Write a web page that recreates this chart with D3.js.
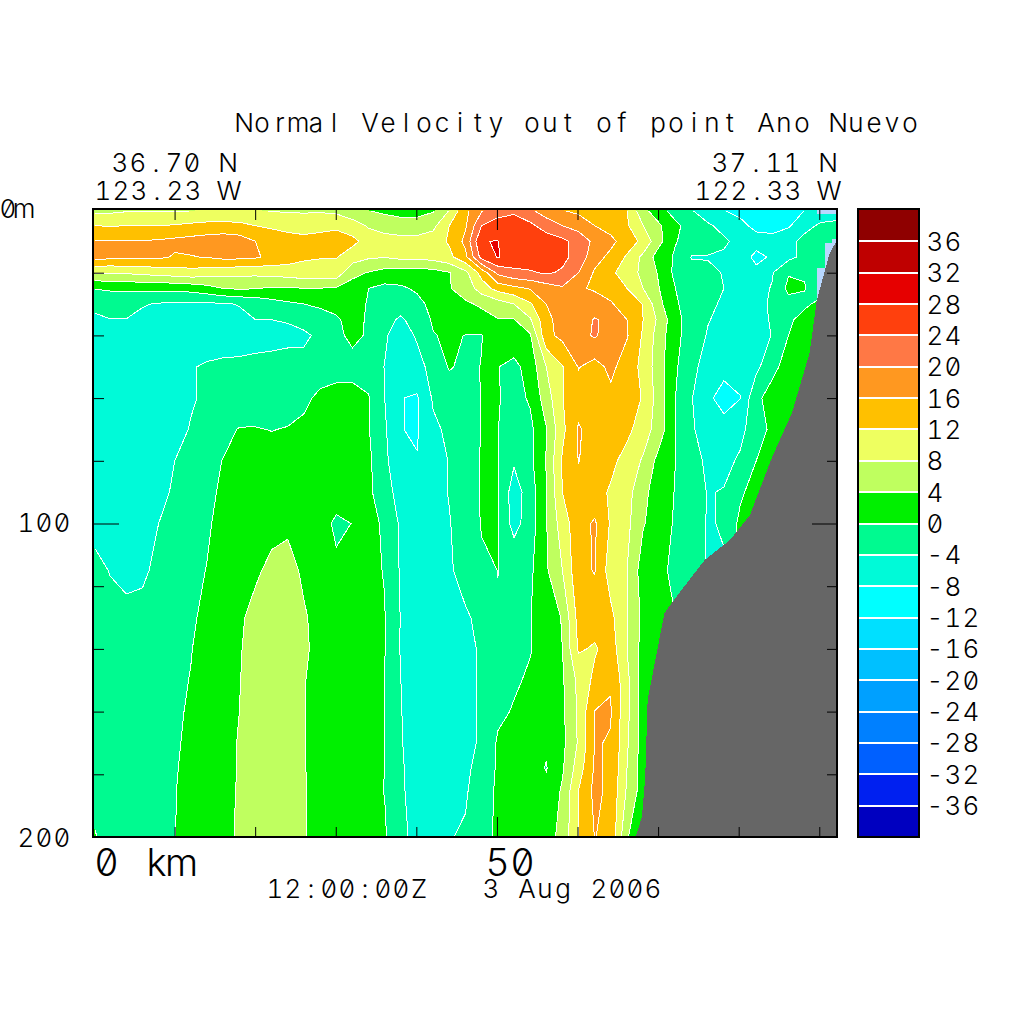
<!DOCTYPE html>
<html><head><meta charset="utf-8">
<style>html,body{margin:0;padding:0;background:#fff}svg{display:block}
text{font-family:Inter,"Noto Sans",sans-serif;font-weight:300;font-feature-settings:"zero" 1,"tnum" 1;white-space:pre;fill:#000}
.dom path{display:none}.dom line{stroke:#000;stroke-width:1}</style>
<script src="https://d3js.org/d3.v7.min.js"></script></head><body>
<script>
// Depth levels (m) of the section and the normal velocity (cm/s) along each level
const depths=[0,5,10,15,20,25,30,35,40,50,60,70,80,90,100,115,130,140,150,160,170,178,185,200];
const v000=[7,7,7.5,7.5,7.5,7.5,7.7,8.2,8.3,8.3,8,7.7,7.5,7.5,7.5,7,5,3.9,3,2.7,2.7,3.5,8,15,19.5,22,23,20.5,18,16,15,14,13,12,5,1.5,-2,-3.9,-6,-8,-9,-10.5,-11,-10,-8,-6,-6];
const v005=[12,11.8,12,12,12,12.3,12.8,13.2,13.3,13,12,11.2,10.5,10,10.5,11,10,7.5,6.5,5.5,5.5,7,12,15.5,24,26,26.5,25,22,20,18.5,16,14.5,12.5,8,4.5,1,-2,-3.5,-5,-7,-9,-9.5,-8.5,-5,-3.5,-3];
const v010=[16.2,16.3,16.2,16.2,16.5,17,17.5,18,18.5,18,16,15,14,13.5,14,14.5,13,10.5,9.5,9.5,9.5,10,12.5,17,27.9,28.1,26,27,26.5,25,22.5,19,17,14,11,5,0.2,-1.5,-2.5,-3.5,-5,-6.5,-6.5,-5,-3,-2.5,-2.5];
const v015=[17.5,17,17,16.8,16.8,15.6,15.8,16.2,17,17,16.5,15,14,12.5,12.2,12.2,10,8.5,8.2,9,9,9.5,11,15,25.5,28.2,26.5,26.5,26,25,22.5,17.5,15,11.5,7,2,-0.5,-4.2,-4.2,-4.5,-6,-9,-7.5,-5,-3,-2.5,-2.5];
const v020=[8.2,8.2,8.5,9,9.5,10,10.5,10,9.5,9,9,9.5,9.8,10.5,10.5,10.5,5,3.8,2.5,2,2,2.5,3.8,7,13.5,21,23,23.5,24.5,23.5,20,15.5,12.8,10,7,3.5,-1,-3,-3.2,-4.2,-6,-7,-4.2,-0.3,-0.3,-2,-2];
const v025=[0.1,0.5,0.7,0.8,0.9,1,1.5,2.5,4,4.5,4.2,3.5,3.5,4,3.9,3.6,2.5,0,-1,-0.5,0.5,2,3.8,5.5,10,13.5,15,16.3,18,19.5,16.5,15.5,14,12,8,4,0,-2,-3,-4,-5.5,-5,-3.8,1,0.2,-2.5,-2.5];
const v030=[-2.7,-2.5,-2.5,-3.7,-4.3,-4.7,-4.8,-4.6,-4.4,-3.8,-3,-1.5,-0.6,0,0.3,0.7,1.5,-0.3,-2,-2.5,-1,1,3.5,3.5,4.5,6,8,11.5,16,17,17.5,18,16.5,13.5,11.9,5,0.4,-1.5,-3,-4.7,-5.5,-5,-3.5,-1.5,-1,1.5,1.5];
const v035=[-5,-4.1,-4.1,-5,-5.5,-6,-6,-6,-5.5,-5,-4,-4,-3.7,-2,-0.8,-0.3,0.8,-0.3,-3,-4.5,-2.5,0.5,2,2.5,2.8,3.8,3.8,7.5,15,17.5,18,20.3,19,16,12,7,1,-1.5,-3.8,-5,-5.5,-5,-3.7,-1,2,2,2];
const v040=[-6,-5.5,-5.5,-5.7,-6,-6.2,-6.5,-6.5,-6.5,-6.5,-6,-5.5,-5,-5,-2.8,-1,1,-0.5,-3.5,-6,-3.5,-0.2,0.6,-0.1,-0.1,2,2.5,3.5,15,17,18.5,20.5,18,16.3,11.5,6,1,-1.8,-4.3,-6,-6.5,-6,-3.8,0,3,3,3];
const v050=[-6.5,-6.5,-6.5,-6.2,-5.5,-5,-4.3,-3.5,-3,-2.8,-2.5,-2.5,-2.5,-2.3,-2.3,-1.6,-1.5,-2,-4.1,-6.5,-5.5,-2.5,0.3,-0.8,0.1,0.1,-1,1.5,8,11.8,16.2,14.5,17,14,11,5.5,0.5,-3,-5.5,-7.2,-7,-5,-1,1.5,3,3,3];
const v060=[-7,-7,-6.8,-6.5,-6,-5.5,-4.3,-3.5,-3,-2.5,-2.2,-2,-1.8,-1,1,1.5,1.5,0.3,-4,-7.9,-8.4,-3.5,-2,-1,0.1,0.3,-1.5,0.5,6,11.9,14,14.5,15,14,11.7,6,0,-3.8,-7.5,-9,-8.1,-0.8,1.5,3,3,3,3];
const v070=[-7.5,-7.5,-7,-6.5,-6,-5,-3.8,-2.5,-1,0.2,0.2,-0.1,0.2,1,2,2.5,2,0.2,-3.5,-7.9,-8.4,-4.8,-3.2,-1.5,0.1,0.1,-2.5,-1,3.8,11,16.5,14,14.5,13,10,6,0,-3.5,-6,-7,-5,-2,1,3,3,3,3];
const v080=[-7.5,-7.5,-7,-6.5,-5.5,-4,-2.5,-1,0.1,1,1.3,1.5,1.8,2,2.2,2.2,2,0.8,-3.3,-6.5,-7.8,-6,-3.8,-2,0.3,0.1,-3.5,-1,4.2,12.5,16.1,14.5,13,10.5,7.5,2.5,0,-3,-4.5,-5,-3.5,0,3,3,3,3,3];
const v090=[-7.5,-7.5,-7,-6.5,-5,-3.5,-2,-0.7,0.5,1.8,2,2.5,2.8,3,2.8,2.5,2,0.8,-2.5,-5.5,-6.5,-5.5,-3.8,-1.8,0.3,0.1,-6,-2,3.8,12,14.5,13.5,11.5,9.5,5,2,-0.2,-2,-4.2,-3.8,-0.8,2,3,3,3,3,3];
const v100=[-5.5,-7.3,-6.8,-6,-4,-2.5,-1.2,-0.4,1,2.2,2.6,3,3.5,3.4,2.2,-1,0.1,1,-0.5,-4.7,-6,-5.5,-4.2,-2,0.2,0.1,-5.5,-2,3.8,10,14.5,16.5,11.5,9,4.3,2,-0.5,-2.5,-4.2,-3.8,1,3,3,3,3,3,3];
const v115=[-2.5,-4.2,-5,-4.7,-3,-1.5,-0.8,0.1,1.5,2.5,3.5,4.8,5,3.5,2.5,1,1,0.5,-0.1,-4.5,-5.5,-5.5,-4.5,-2.5,-0.5,0.02,-0.5,-0.8,3.5,8,15,16.2,10,8,2,0.5,-0.5,-2.8,-4.2,-4.2,3,3,3,3,3,3,3];
const v130=[-2,-2.5,-3,-2.8,-2,-1,-0.3,0.5,2,3.5,5,5.5,5.5,4.3,3,2,1.5,1,0.1,-4.2,-5.5,-5.5,-5,-4.5,-3,-0.1,-1,-0.1,1.5,4.3,13.5,14,13,8,3,1,0,3,3,3,3,3,3,3,3,3,3];
const v140=[-1.8,-2,-2.2,-2,-1.5,-0.8,-0.1,1,2.5,3.8,5,5.8,6,4.5,3,2,1.5,1,0.1,-4.3,-5.3,-5.5,-5.5,-5,-3.5,-2.5,-1.5,-0.2,1.5,4,12.5,11.5,14,8,2.5,1,1,3,3,3,3,3,3,3,3,3,3];
const v150=[-1.5,-1.5,-1.7,-1.5,-1.2,-0.6,0.1,1.5,3,3.9,5.2,6,6,4.2,2.5,2,1.5,1,0,-4,-5.5,-5.5,-5.3,-5,-3.5,-2.3,-0.5,0.5,2,3.5,9,13,15.9,9,2,1,1,3,3,3,3,3,3,3,3,3,3];
const v160=[-1.2,-1.2,-1.3,-1.2,-1,-0.4,0.3,1.5,3,4,5.3,6,5.9,4.2,2.5,2,1.5,1,0,-3.9,-5.5,-5.5,-5.4,-5,-3.5,-0.8,0.3,1,1.5,3.2,8.7,16.1,16.1,9,2,1,1,3,3,3,3,3,3,3,3,3,3];
const v170=[-1,-1,-1,-1,-0.7,-0.3,0.5,1.5,3,4.2,5.5,6,5.8,4.2,2.5,2,1.5,1,0,-3.8,-5.5,-5.5,-5.5,-5,-3.5,0.5,1,1.5,0.5,3,8.5,16.1,15.9,8.5,2,1,1,3,3,3,3,3,3,3,3,3,3];
const v178=[-0.9,-0.9,-0.9,-0.9,-0.7,-0.2,0.7,1.5,3,4.2,5.5,6,5.8,4.2,2.5,2,1.5,1,0,-3.6,-5.5,-5.5,-5.2,-4.8,-2.5,0.5,1,1.5,-0.2,3.5,10,16.5,15.5,8,2,1,1,3,3,3,3,3,3,3,3,3,3];
const v185=[-0.8,-0.8,-0.8,-0.8,-0.6,-0.1,0.8,1.5,3,4.3,5.5,6,5.8,4.3,2.5,2,1.5,1,-0.1,-3.5,-5.5,-5.5,-5,-4.5,-1.5,0.5,1,1.5,1,4.5,12,17,15,7.5,2,1,1,3,3,3,3,3,3,3,3,3,3];
const v200=[0.2,-0.8,-0.8,-0.8,-0.6,-0.05,1,1.8,3,4.5,5.5,6,5.7,4.3,2.5,2,1.5,1,0.4,-3.2,-5,-5.5,-4.2,-3.5,-1,0.5,1,1.5,2,5.5,12,16.1,15,4.3,1,1,1,3,3,3,3,3,3,3,3,3,3];
const rows=[v000,v005,v010,v015,v020,v025,v030,v035,v040,v050,v060,v070,v080,v090,v100,v115,v130,v140,v150,v160,v170,v178,v185,v200];

// Contour levels and colours (one colour per 4 cm/s band, low to high)
const levels=[-40,-36,-32,-28,-24,-20,-16,-12,-8,-4,0,4,8,12,16,20,24,28,32,36];
const bandColors=["#0000c0","#0020f0","#0060ff","#0080ff","#00a0ff","#00c0ff","#00e0ff","#00ffff","#00fad8","#00fa90","#00f000","#bfff5f","#eeff60","#ffc000","#ff9820","#ff7845","#ff400d","#e60000","#bf0000","#8f0000"];
const barLabels=[36,32,28,24,20,16,12,8,4,0,-4,-8,-12,-16,-20,-24,-28,-32,-36];

// Sea floor profile and masked (no-data) cells
const floorKm=[92.2,91.3,89.7,88.8,86.6,84.1,81.4,78.9,75.8,72.7,70.8,69.9,68.7,68.4,68,67.2];
const floorDepth=[9.6,13.7,28.7,45.6,64.8,79.1,97.3,105.3,111.6,121.9,128.5,140.3,156.3,180.9,193.6,200];
const maskKm0=[89.7,91.6,90.7,89.7];
const maskDepth0=[0,9.3,10.5,18.5];
const maskDepth1=[1.3,10.5,18.5,29.3];
const kmMax=92.2, depthMax=200, nCols=v000.length, nRows=rows.length;

const x=d3.scaleLinear().domain([0,kmMax]).range([94,837]);
const y=d3.scaleLinear().domain([0,depthMax]).range([210,837]);
const colKm=d3.scaleLinear().domain([0,nCols-1]).range([0,kmMax]).clamp(true);
const rowDepth=d3.scaleLinear().domain(depths.map((d,i)=>i)).range(depths).clamp(true);
const barY=d3.scaleLinear().domain([-40,40]).range([837,210]);

const svg=d3.select("body").append("svg").attr("width",1024).attr("height",1024);
const defs=svg.append("defs");
defs.append("clipPath").attr("id","cf").append("rect").attr("x",94).attr("y",210).attr("width",743).attr("height",627);
defs.append("clipPath").attr("id","cl").append("rect").attr("x",95).attr("y",211).attr("width",741).attr("height",625);

const flat=rows.flat();
const contours=d3.contours().size([nCols,nRows]).smooth(true).thresholds(levels)(flat);
const path=d3.geoPath(d3.geoTransform({point(px,py){this.stream.point(x(colKm(px-0.5)),y(rowDepth(py-0.5)));}}));

const fills=svg.append("g").attr("clip-path","url(#cf)").attr("shape-rendering","crispEdges");
fills.append("rect").attr("x",94).attr("y",210).attr("width",743).attr("height",627).attr("fill",bandColors[0]);
fills.selectAll("path").data(contours.filter(c=>c.coordinates.length)).join("path")
  .attr("d",path).attr("fill",(c)=>bandColors[levels.indexOf(c.value)]);
svg.append("g").attr("clip-path","url(#cl)").selectAll("path").data(contours.filter(c=>c.coordinates.length)).join("path")
  .attr("d",path).attr("fill","none").attr("stroke","#fff").attr("stroke-width",1).attr("shape-rendering","crispEdges");

const over=svg.append("g").attr("clip-path","url(#cf)").attr("shape-rendering","crispEdges");
over.selectAll("rect").data(maskKm0).join("rect")
  .attr("x",d=>x(d)).attr("width",d=>x(kmMax)-x(d))
  .attr("y",(d,i)=>y(maskDepth0[i])).attr("height",(d,i)=>y(maskDepth1[i])-y(maskDepth0[i]))
  .attr("fill","#b8d8ff");
over.append("path").attr("fill","#666")
  .attr("d","M"+x(kmMax)+","+y(depthMax)+"L"+x(kmMax)+","+y(floorDepth[0])+floorKm.map((k,i)=>"L"+x(k)+","+y(floorDepth[i])).join("")+"Z");

// Axes
const kmTicks=d3.range(10,91,10).filter(d=>d!==50), depthTicks=d3.range(20,200,20).filter(d=>d!==100);
function ax(gen,tx,ty,vals,len){svg.append("g").attr("class","dom").attr("transform",`translate(${tx},${ty})`)
  .call(gen.tickValues(vals).tickSize(len).tickFormat(""));}
ax(d3.axisBottom(x),0,210,kmTicks,10); ax(d3.axisBottom(x),0,210,[50],20);
ax(d3.axisTop(x),0,837,kmTicks,10);    ax(d3.axisTop(x),0,837,[50],20);
ax(d3.axisRight(y),94,0,depthTicks,10);ax(d3.axisRight(y),94,0,[100],25);
ax(d3.axisLeft(y),837,0,depthTicks,10);ax(d3.axisLeft(y),837,0,[100],25);
svg.append("rect").attr("x",93).attr("y",209).attr("width",744).attr("height",628).attr("fill","none").attr("stroke","#000").attr("stroke-width",2).attr("shape-rendering","crispEdges");

// Colour bar
const bar=svg.append("g").attr("shape-rendering","crispEdges");
bar.selectAll("rect.b").data(levels).join("rect").attr("class","b").attr("x",858).attr("width",61)
  .attr("y",d=>barY(d+4)).attr("height",d=>barY(d)-barY(d+4)).attr("fill",(d,i)=>bandColors[i]);
bar.selectAll("line").data(barLabels).join("line").attr("x1",858).attr("x2",918)
  .attr("y1",d=>barY(d)).attr("y2",d=>barY(d)).attr("stroke","#fff").attr("stroke-width",2);
bar.append("rect").attr("x",857.5).attr("y",209).attr("width",61).attr("height",628).attr("fill","none").attr("stroke","#000").attr("stroke-width",2);

// Text, laid out on a fixed character pitch like the plotting package's vector font
const probe=svg.append("text").attr("x",-100).attr("y",-100);
function charWidth(c,size){probe.attr("font-size",size).text(c);return probe.node().getComputedTextLength();}
function label(str,x0,base,pitch,size){
  const xs=Array.from(str).map((c,i)=>x0+i*pitch+(pitch-charWidth(c,size))/2);
  svg.append("text").attr("x",xs.join(" ")).attr("y",base).attr("font-size",size).text(str);
}
label("Normal Velocity out of point Ano Nuevo",235,132,18,26);
label("36.70 N",111,172,18,26);
label("123.23 W",94,200,18,26);
label("37.11 N",711,172,18,26);
label("122.33 W",694,200,18,26);
label("0m",0,218,16,26);
label("100",17,532,18,26);
label("200",17,847,18,26);
label("0 km",94,876,25,38);
label("50",485,876,25,38);
label("12:00:00Z   3 Aug 2006",266,898,18,26);
barLabels.forEach(v=>label(String(v),926,barY(v)+9.5,18,26));
probe.remove();
</script></body></html>
